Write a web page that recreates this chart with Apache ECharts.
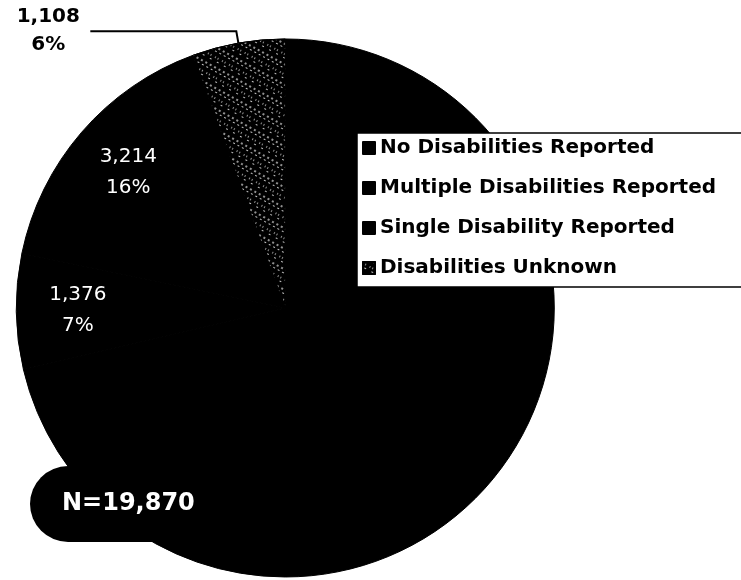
<!DOCTYPE html>
<html><head><meta charset="utf-8">
<script src="https://cdn.jsdelivr.net/npm/echarts@6/dist/echarts.min.js"></script>
<style>html,body{margin:0;padding:0;background:#fff}#c{width:741px;height:580px}</style>
</head><body><div id="c"></div>
<script>
// ---- data ----
const categories = ['No Disabilities Reported', 'Multiple Disabilities Reported', 'Single Disability Reported', 'Disabilities Unknown'];
const counts = [14172, 1376, 3214, 1108];
const insideLabelled = [false, true, true, false];
const outsideLabelled = [false, false, false, true];
const totalLabel = 'N=19,870';

// ---- styles ----
const FONT = 'DejaVu Sans';
const CENTER = ['38.5%', '53.1%'];
const R = 269;
const speckle = {
  symbol: 'rect', symbolSize: 0.8, color: 'rgba(255,255,255,0.95)',
  dashArrayX: [[2, 3], [0, 3, 2, 0], [1, 2, 1, 4], [0, 4, 2, 2]], dashArrayY: [2, 2, 1, 4], rotation: 0.5
};

function fmt(n) { return n.toLocaleString('en-US'); }

const mainData = categories.map((name, i) => {
  const d = { name: name, value: counts[i], itemStyle: { color: '#000' } };
  if (i === 3) d.itemStyle.decal = speckle;
  if (outsideLabelled[i]) {
    d.label = {
      show: true, position: 'outside',
      formatter: p => '{a|' + fmt(p.value) + '}\n{a|' + Math.round(p.percent) + '%}',
      rich: { a: { width: 74, align: 'center', fontFamily: FONT, fontWeight: 'bold', fontSize: 20, lineHeight: 28, color: '#000' } }
    };
    d.labelLine = { show: true, length: 12, length2: 146, lineStyle: { color: '#000', width: 2 } };
  }
  return d;
});

const overlayData = categories.map((name, i) => ({
  name: name, value: counts[i],
  itemStyle: { color: 'rgba(0,0,0,0)' },
  label: { show: insideLabelled[i] }
}));

const chart = echarts.init(document.getElementById('c'));
chart.setOption({
  animation: false,
  backgroundColor: '#fff',
  title: {
    text: totalLabel, left: 30, top: 466,
    backgroundColor: '#000', borderRadius: 40, padding: [26, 40, 26, 32],
    textStyle: { color: '#fff', fontSize: 24, fontWeight: 'bold', fontFamily: FONT }
  },
  legend: {
    orient: 'vertical', left: 357, top: 133,
    data: categories,
    backgroundColor: '#fff', borderColor: '#000', borderWidth: 1.5,
    padding: [4, 80, 8, 5],
    itemWidth: 12, itemHeight: 12, itemGap: 18, icon: 'rect',
    textStyle: { fontFamily: FONT, fontWeight: 'bold', fontSize: 20, lineHeight: 22, color: '#000' }
  },
  series: [
    {
      type: 'pie', center: CENTER, radius: [0, R], startAngle: 90, clockwise: true,
      avoidLabelOverlap: false,
      itemStyle: { borderWidth: 1, borderColor: '#000' },
      label: { show: false },
      labelLine: { show: false },
      emphasis: { disabled: true },
      data: mainData
    },
    {
      type: 'pie', center: CENTER, radius: [R * 0.52, R], startAngle: 90, clockwise: true,
      silent: true, legendHoverLink: false, z: 3,
      itemStyle: { borderWidth: 0 },
      label: {
        position: 'inside',
        formatter: p => fmt(p.value) + '\n' + Math.round(p.percent) + '%',
        color: '#fff', fontFamily: FONT, fontSize: 20, lineHeight: 31
      },
      labelLine: { show: false },
      emphasis: { disabled: true },
      data: overlayData
    }
  ]
});
</script></body></html>
